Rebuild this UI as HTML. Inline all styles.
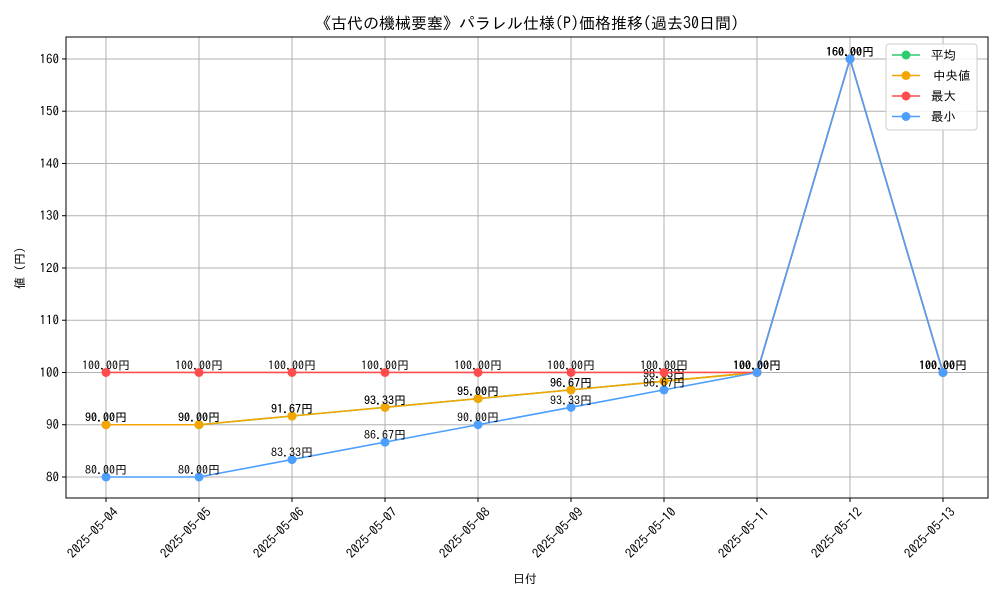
<!DOCTYPE html>
<html><head><meta charset="utf-8">
<style>
body{margin:0;background:#fff;}
svg text{font-family:"IPAGothic","Noto Sans CJK JP",sans-serif;}
</style></head>
<body>
<svg id="chart" width="1000" height="600" xmlns="http://www.w3.org/2000/svg">
<rect width="1000" height="600" fill="#fff"/>
<g id="grid"></g>
<g id="series"></g>
<g id="axes"></g>
<text x="527" y="29" font-size="16" text-anchor="middle">《古代の機械要塞》パラレル仕様(P)価格推移(過去30日間)</text>
<text x="525" y="583" font-size="12" text-anchor="middle">日付</text>
<text x="24" y="268" font-size="12" text-anchor="middle" transform="rotate(-90 24 268)">値 (円)</text>
<g>
<rect x="886" y="44" width="91" height="86" rx="3" fill="#fff" fill-opacity="0.85" stroke="#ccc"/>
<g id="legend"></g>
</g>
</svg>
<script>
const categories=["2025-05-04","2025-05-05","2025-05-06","2025-05-07","2025-05-08","2025-05-09","2025-05-10","2025-05-11","2025-05-12","2025-05-13"];
const meanVals=[90,90,91.67,93.33,95,96.67,98.33,100,160,100];
const medianVals=[90,90,91.67,93.33,95,96.67,98.33,100,160,100];
const maxVals=[100,100,100,100,100,100,100,100,160,100];
const minVals=[80,80,83.33,86.67,90,93.33,96.67,100,160,100];
const yTicks=[80,90,100,110,120,130,140,150,160];
const seriesNames=["平均","中央値","最大","最小"];
const NS="http://www.w3.org/2000/svg";
const L=66,R=988,T=37,B=498,yMin=75.98,yMax=164.2;
function xs(i){return 106+i*93;}
function ys(v){return B-(v-yMin)/(yMax-yMin)*(B-T);}
function mk(tag,attrs,parent){const e=document.createElementNS(NS,tag);for(const k in attrs)e.setAttribute(k,attrs[k]);parent.appendChild(e);return e;}
const grid=document.getElementById('grid'),axes=document.getElementById('axes'),ser=document.getElementById('series'),leg=document.getElementById('legend');
categories.forEach((c,i)=>{
 const g=mk('line',{x1:xs(i),x2:xs(i),y1:T,y2:B,stroke:'#b0b0b0','stroke-width':1},grid);
 
 
 mk('line',{x1:xs(i),x2:xs(i),y1:B,y2:B+4,stroke:'#000'},axes);
 const tx=xs(i)+6, ty=B+8;
 const t=mk('text',{x:tx,y:ty,'font-size':13,'text-anchor':'end',transform:`rotate(-45 ${tx} ${ty})`,dy:'0.75em'},axes);
 t.textContent=c;
 
 
});
yTicks.forEach(v=>{
 const g=mk('line',{x1:L,x2:R,y1:ys(v),y2:ys(v),stroke:'#b0b0b0','stroke-width':1},grid);
 
 
 mk('line',{x1:L-4,x2:L,y1:ys(v),y2:ys(v),stroke:'#000'},axes);
 const t=mk('text',{x:L-7,y:ys(v)+4.5,'font-size':13,'text-anchor':'end'},axes);
 t.textContent=v;
 
 
});
const fr=mk('rect',{x:L,y:T,width:R-L,height:B-T,fill:'none',stroke:'#000'},axes);


const all=[meanVals,medianVals,maxVals,minVals];
const colors=["#2ecc71","#f5a500","#ff4d4d","#4d9fff"];
const keys=["mean","median","max","min"];
all.forEach((vals,s)=>{
 const g=mk('g',{},ser);
 
 
 const p=mk('polyline',{points:vals.map((v,i)=>xs(i)+','+ys(v)).join(' '),fill:'none',stroke:colors[s],'stroke-width':1.6},g);
 
 
 vals.forEach((v,i)=>{
  const c=mk('circle',{cx:xs(i),cy:ys(v),r:4.5,fill:colors[s]},g);
  
  
 });
 vals.forEach((v,i)=>{
  const t=mk('text',{x:xs(i),y:ys(v)-3,'font-size':12,'text-anchor':'middle'},g);
  t.textContent=v.toFixed(2)+'円';
  
  
 });
});
seriesNames.forEach((n,s)=>{
 const y=55+s*20.5;
 const g=mk('g',{},leg);
 
 
 mk('line',{x1:892,x2:920,y1:y,y2:y,stroke:colors[s],'stroke-width':1.6},g);
 mk('circle',{cx:906,cy:y,r:4.5,fill:colors[s]},g);
 const t=mk('text',{x:s==1?933:931,y:y+4.5,'font-size':12.5},g);
 t.textContent=n;
});
</script>
</body></html>
